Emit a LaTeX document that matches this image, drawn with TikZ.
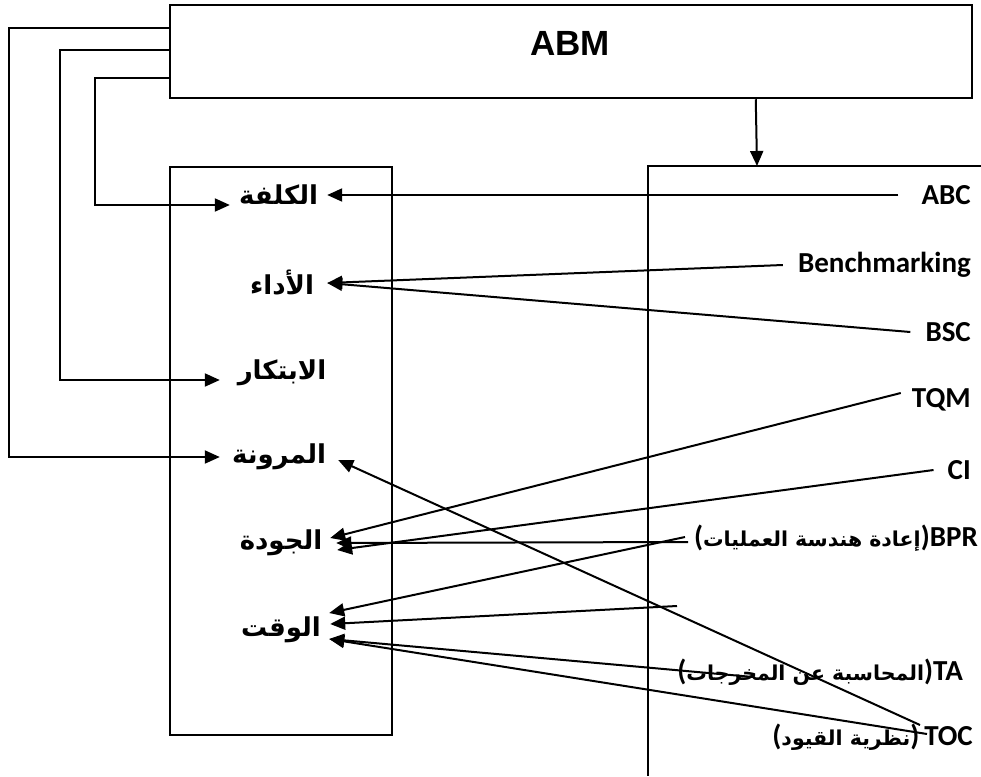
\documentclass[tikz,border=0pt]{standalone}
\usepackage{fontspec}
\setmainfont{Carlito}
\newfontfamily\abmfont{Liberation Sans}
\newfontfamily\arabicfont[Script=Arabic]{DejaVu Sans}
\TeXXeTstate=1
\usetikzlibrary{arrows.meta,positioning,calc}

% Arabic text inside a tool label
\newcommand{\arpar}[1]{({\arabicfont\bfseries\fontsize{20.5}{24}\selectfont\beginR #1\endR})}

\begin{document}
\begin{tikzpicture}[x=1pt,y=-1pt,
    box/.style={draw, line width=2pt, inner sep=0pt},
    wire/.style={line width=2pt},
    link/.style={line width=2pt, -{Triangle[length=15pt,width=13pt]}},
    factor/.style={font=\arabicfont\bfseries\fontsize{26}{30}\selectfont, inner sep=0pt},
    tool/.style={font=\bfseries\fontsize{29}{32}\selectfont, anchor=east, inner sep=0pt}]
    \useasboundingbox (0,0) rectangle (981,776);

    % ABM box
    \node[box, line width=2.5pt, minimum width=802pt, minimum height=93pt] (abm) at (571,51.5) {};
    \node[font=\abmfont\bfseries\fontsize{35}{40}\selectfont] (abmtxt) at (570,43) {ABM};

    % Left box (factors)
    \node[box, minimum width=222pt, minimum height=568pt] (goals) at (281,451) {};

    % Right side (tools), open to the page edge
    \draw[wire] (981,166) -| (648,776);
    \coordinate (toolstop) at (757,166);
    \draw[link] ([xshift=587pt]abm.south west) -- (toolstop);

    % Factors
    \node[factor, minimum width=97pt] (kulfa) at (278.5,195) {\beginR الكلفة\endR};
    \node[factor, minimum width=90pt] (adaa) at (282,283) {\beginR الأداء\endR};
    \node[factor, minimum width=124pt] (ibtikar) at (282,373) {\beginR الابتكار\endR};
    \node[factor, minimum width=118pt] (muruna) at (279,457) {\beginR المرونة\endR};
    \node[factor, minimum width=98pt] (jawda) at (281,543) {\beginR الجودة\endR};
    \node[factor, minimum width=96pt] (waqt) at (281,630) {\beginR الوقت\endR};

    % Tools
    \node[tool] (abc) at (971,195) {ABC};
    \node[tool] (bench) at (971,265) {Benchmarking};
    \node[tool] (bsc) at (971,332) {BSC};
    \node[tool] (tqm) at (971,400) {TQM};
    \node[tool] (ci) at (971,470) {CI};
    \node[tool] (bpr) at (978,538) {\arpar{إعادة هندسة العمليات}BPR};
    \node[tool] (ta) at (963,672) {\arpar{المحاسبة عن المخرجات}TA};
    \node[tool] (toc) at (973,737) {\arpar{نظرية القيود}\,TOC};
    \coordinate (spare) at (677,606);
    \coordinate (taend) at (753,677);

    % ABM feeds the factors
    \draw[link] ([yshift=-24pt]abm.north west) -- ++(-160,0) |- (muruna.west);
    \draw[link] ([yshift=-46pt]abm.north west) -- ++(-109,0) |- ([yshift=-7pt]ibtikar.west);
    \draw[link] ([yshift=-74pt]abm.north west) -- ++(-74,0) |- ([yshift=-10pt]kulfa.west);

    % Tools feed the factors
    \draw[link] ([xshift=-23pt]abc.west) -- (kulfa.east);
    \draw[link] ([xshift=-15pt]bench.west) -- (adaa.east);
    \draw[link] ([xshift=-15pt]bsc.west) -- (adaa.east);
    \draw[link] ([xshift=-11pt,yshift=7pt]tqm.west) -- ([yshift=5pt]jawda.east);
    \draw[link] ([xshift=-14pt]ci.west) -- ([xshift=7pt,yshift=-7pt]jawda.east);
    \draw[link] ([xshift=-290pt,yshift=-4pt]bpr.east) -- ([xshift=6pt]jawda.east);
    \draw[link] ([xshift=-293pt,yshift=1pt]bpr.east) -- ([yshift=17pt]waqt.east);
    \draw[link] (spare) -- ([xshift=1pt,yshift=6pt]waqt.east);
    \draw[link] (taend) -- ([yshift=-9pt]waqt.east);
    \draw[link] ([xshift=-46pt,yshift=3pt]toc.east) -- ([yshift=-9pt]waqt.east);
    \draw[link] ([xshift=-53pt,yshift=12pt]toc.east) -- ([yshift=-3pt]muruna.east);
\end{tikzpicture}
\end{document}
